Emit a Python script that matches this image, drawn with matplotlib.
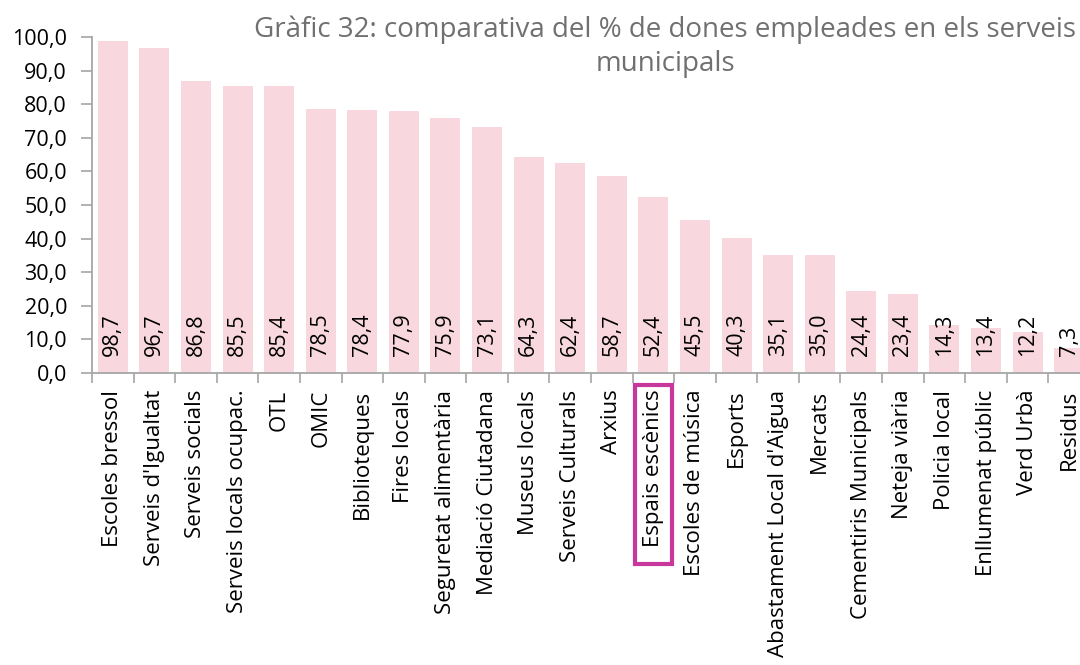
import matplotlib
matplotlib.use("Agg")
from matplotlib import pyplot as plt
from matplotlib.patches import Rectangle
from matplotlib.ticker import FuncFormatter, FixedLocator
import numpy as np

plt.rcParams['font.family'] = ['Open Sans', 'DejaVu Sans']

services = ["Escoles bressol", "Serveis d'Igualtat", "Serveis socials",
            "Serveis locals ocupac.", "OTL", "OMIC", "Biblioteques",
            "Fires locals", "Seguretat alimentària", "Mediació Ciutadana",
            "Museus locals", "Serveis Culturals", "Arxius", "Espais escènics",
            "Escoles de música", "Esports", "Abastament Local d'Aigua",
            "Mercats", "Cementiris Municipals", "Neteja viària",
            "Policia local", "Enllumenat públic", "Verd Urbà", "Residus"]
pct_women = [98.7, 96.7, 86.8, 85.5, 85.4, 78.5, 78.4, 77.9, 75.9, 73.1,
             64.3, 62.4, 58.7, 52.4, 45.5, 40.3, 35.1, 35.0, 24.4, 23.4,
             14.3, 13.4, 12.2, 7.3]
highlight = "Espais escènics"


def comma(v):
    return f"{v:.1f}".replace('.', ',')


fig = plt.figure(figsize=(10.8, 6.65), dpi=100)
# the plot area runs past the right edge, so the last bar gets cut off
ax = fig.add_axes([92 / 1080, 1 - 373 / 665, 998 / 1080, 336 / 665])

x = np.arange(len(services))
ax.bar(x, pct_women, width=0.72, color='#F8D8DE')

for xi, v in zip(x, pct_women):
    ax.text(xi, 5.0, comma(v), rotation=90,
            ha='center', va='bottom', fontsize=15.5, color='black')

ax.set_xlim(-0.5, len(services) - 0.5)
ax.set_ylim(0, 100)
ax.set_yticks(np.arange(0, 101, 10))
ax.yaxis.set_major_formatter(FuncFormatter(lambda v, p: comma(v)))

ax.set_xticks(x)
ax.set_xticklabels(services, rotation=90, fontsize=16)
ax.xaxis.set_minor_locator(FixedLocator(np.arange(-0.5, len(services), 1)))
ax.tick_params(axis='x', which='major', length=0, pad=12)
ax.tick_params(axis='x', which='minor', length=7, color='#A6A6A6', width=1.2)
ax.tick_params(axis='y', length=8, color='#A6A6A6', width=1.2, labelsize=15.5, pad=10)

for side in ['top', 'right']:
    ax.spines[side].set_visible(False)
for side in ['left', 'bottom']:
    ax.spines[side].set_color('#A6A6A6')
    ax.spines[side].set_linewidth(1.3)

fig.text(665 / 1080, 1 - 47 / 665,
         "Gràfic 32: comparativa del % de dones empleades en els serveis\nmunicipals",
         ha='center', va='center', fontsize=20, color='#707070', linespacing=1.3)

# frame around the highlighted category label
fig.canvas.draw()
renderer = fig.canvas.get_renderer()
for lab in ax.get_xticklabels():
    if lab.get_text() == highlight:
        bb = lab.get_window_extent(renderer)
        fig.patches.append(Rectangle((bb.x0 - 8, bb.y0 - 17),
                                     bb.width + 16, bb.height + 22,
                                     transform=None, fill=False,
                                     edgecolor='#C8379B', linewidth=3))

fig.savefig("out.png", dpi=100)
